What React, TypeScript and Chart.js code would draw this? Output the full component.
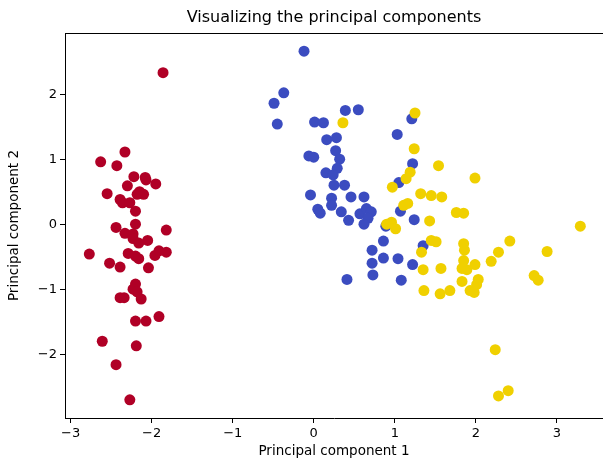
import React, { useEffect, useRef } from "react";
import { Chart, registerables } from "chart.js";

Chart.register(...registerables);

const setosaX = [-1.86, -2.33, -2.63, -2.43, -2.22, -2.08, -2.07, -1.95, -2.30, -2.55, -2.15, -2.18, -2.10, -2.39, -2.36, -2.27, -2.20, -2.20, -2.44, -1.82, -2.33, -2.23, -2.23, -2.05, -2.16, -2.77, -2.29, -2.20, -2.16, -1.96, -1.91, -1.82, -2.52, -2.39, -2.04, -2.20, -2.23, -2.18, -2.13, -2.39, -2.34, -2.20, -2.07, -1.91, -2.61, -2.19, -2.44, -2.27];
const setosaY = [2.33, 1.11, 0.96, 0.90, 0.73, 0.72, 0.68, 0.62, 0.59, 0.47, 0.50, 0.46, 0.46, 0.38, 0.33, 0.33, 0.20, 0.00, -0.05, -0.09, -0.14, -0.15, -0.22, -0.25, -0.29, -0.46, -0.45, -0.49, -0.53, -0.48, -0.41, -0.43, -0.60, -0.66, -0.67, -0.92, -1.00, -1.04, -1.15, -1.13, -1.13, -1.49, -1.49, -1.42, -1.80, -1.87, -2.16, -2.70];

const versicolorX = [-0.12, -0.37, -0.49, -0.45, 0.39, 0.55, 0.01, 0.12, 0.16, 0.28, 0.27, -0.06, 0.00, 0.32, 0.29, 0.15, 0.24, 0.25, 0.38, -0.04, 0.22, 0.46, 0.62, 0.22, 0.05, 0.08, 0.34, 0.57, 0.65, 0.71, 0.43, 0.67, 0.62, 1.03, 1.21, 1.22, 1.05, 1.07, 1.24, 0.89, 0.86, 0.72, 0.86, 1.04, 0.72, 1.22, 0.73, 0.41, 1.08, 1.35];
const versicolorY = [2.66, 2.02, 1.86, 1.54, 1.75, 1.76, 1.57, 1.56, 1.30, 1.33, 1.13, 1.05, 1.03, 1.00, 0.86, 0.79, 0.76, 0.60, 0.60, 0.45, 0.40, 0.42, 0.42, 0.29, 0.23, 0.17, 0.19, 0.16, 0.24, 0.19, 0.06, 0.09, 0.00, 1.38, 1.62, 0.93, 0.64, 0.20, 0.07, -0.03, -0.26, -0.40, -0.52, -0.53, -0.60, -0.62, -0.78, -0.85, -0.86, -0.33];

const virginicaX = [0.36, 1.25, 1.24, 1.54, 1.19, 1.14, 0.97, 1.32, 1.45, 1.58, 1.11, 1.16, 1.43, 0.90, 0.96, 1.01, 1.99, 1.76, 1.85, 3.29, 1.45, 1.51, 1.85, 1.86, 2.42, 2.28, 2.88, 1.33, 1.85, 2.19, 1.99, 1.83, 1.89, 1.35, 1.57, 2.72, 2.77, 1.83, 2.03, 2.01, 1.36, 1.56, 1.68, 1.93, 1.98, 2.24, 2.28, 2.40];
const virginicaY = [1.56, 1.71, 1.16, 0.90, 0.80, 0.70, 0.57, 0.47, 0.44, 0.42, 0.29, 0.32, 0.05, 0.00, 0.03, -0.07, 0.71, 0.18, 0.17, -0.03, -0.25, -0.27, -0.30, -0.40, -0.26, -0.43, -0.42, -0.43, -0.56, -0.57, -0.62, -0.68, -0.70, -0.70, -0.68, -0.79, -0.86, -0.88, -0.85, -0.93, -1.02, -1.07, -1.02, -1.02, -1.05, -1.93, -2.64, -2.56];

const xTicks = [-3, -2, -1, 0, 1, 2, 3];
const yTicks = [-2, -1, 0, 1, 2];

const titleText = "Visualizing the principal components";
const xLabel = "Principal component 1";
const yLabel = "Principal component 2";

const pts = (xs: number[], ys: number[]) => xs.map((x, i) => ({ x, y: ys[i] }));
const fmt = (v: number) => (v < 0 ? "\u2212" + Math.abs(v) : String(v));
const FONT = "'DejaVu Sans', sans-serif";

export default function App() {
  const ref = useRef<HTMLCanvasElement>(null);
  useEffect(() => {
    document.body.style.margin = "0";
    const titlePlugin = {
      id: "frameTitle",
      afterDraw(chart: any) {
        const { ctx, chartArea } = chart;
        ctx.save();
        ctx.strokeStyle = "#000";
        ctx.lineWidth = 1;
        ctx.beginPath();
        ctx.moveTo(chartArea.left, chartArea.top + 0.5);
        ctx.lineTo(chartArea.right, chartArea.top + 0.5);
        ctx.stroke();
        ctx.fillStyle = "#000";
        ctx.font = "16px " + FONT;
        ctx.textAlign = "center";
        ctx.textBaseline = "middle";
        ctx.fillText(titleText, (chartArea.left + chartArea.right) / 2, 18);
        ctx.restore();
      },
    };
    const chart = new Chart(ref.current!, {
      type: "scatter",
      data: {
        datasets: [
          { data: pts(virginicaX, virginicaY), backgroundColor: "#f0d000", pointRadius: 5.5, borderWidth: 0 },
          { data: pts(versicolorX, versicolorY), backgroundColor: "#3b4cc0", pointRadius: 5.5, borderWidth: 0 },
          { data: pts(setosaX, setosaY), backgroundColor: "#b00026", pointRadius: 5.5, borderWidth: 0 },
        ],
      },
      options: {
        animation: false,
        responsive: false,
        layout: { autoPadding: false, padding: { top: 33, right: 0, left: 0, bottom: 0 } },
        plugins: { legend: { display: false }, tooltip: { enabled: false }, title: { display: false } },
        scales: {
          x: {
            type: "linear",
            min: -3.07,
            max: 3.57,
            afterFit: (s: any) => { s.height = 44; s.paddingRight = 0; s.paddingLeft = 0; },
            afterBuildTicks: (s: any) => { s.ticks = xTicks.map((v) => ({ value: v })); },
            ticks: { callback: (v: any) => fmt(Number(v)), color: "#000", font: { family: FONT, size: 13 }, padding: 3, maxRotation: 0 },
            grid: { drawOnChartArea: false, drawTicks: true, tickLength: 5, color: "#000" },
            border: { display: true, color: "#000", width: 1 },
            title: { display: true, text: xLabel, color: "#000", font: { family: FONT, size: 13.5 }, padding: { top: 0, bottom: 2 } },
          },
          y: {
            type: "linear",
            min: -2.98,
            max: 2.94,
            afterFit: (s: any) => { s.width = 65; s.paddingTop = 0; s.paddingBottom = 0; },
            afterBuildTicks: (s: any) => { s.ticks = yTicks.map((v) => ({ value: v })); },
            ticks: { callback: (v: any) => fmt(Number(v)), color: "#000", font: { family: FONT, size: 13 }, padding: 3 },
            grid: { drawOnChartArea: false, drawTicks: true, tickLength: 5, color: "#000" },
            border: { display: true, color: "#000", width: 1 },
            title: { display: true, text: yLabel, color: "#000", font: { family: FONT, size: 13.5 }, padding: { top: 6, bottom: 0 } },
          },
        },
      },
      plugins: [titlePlugin],
    });
    return () => chart.destroy();
  }, []);
  return (
    <div style={{ position: "absolute", left: 0, top: 0, width: 603, height: 462, background: "#fff" }}>
      <canvas ref={ref} width={603} height={462} />
    </div>
  );
}
